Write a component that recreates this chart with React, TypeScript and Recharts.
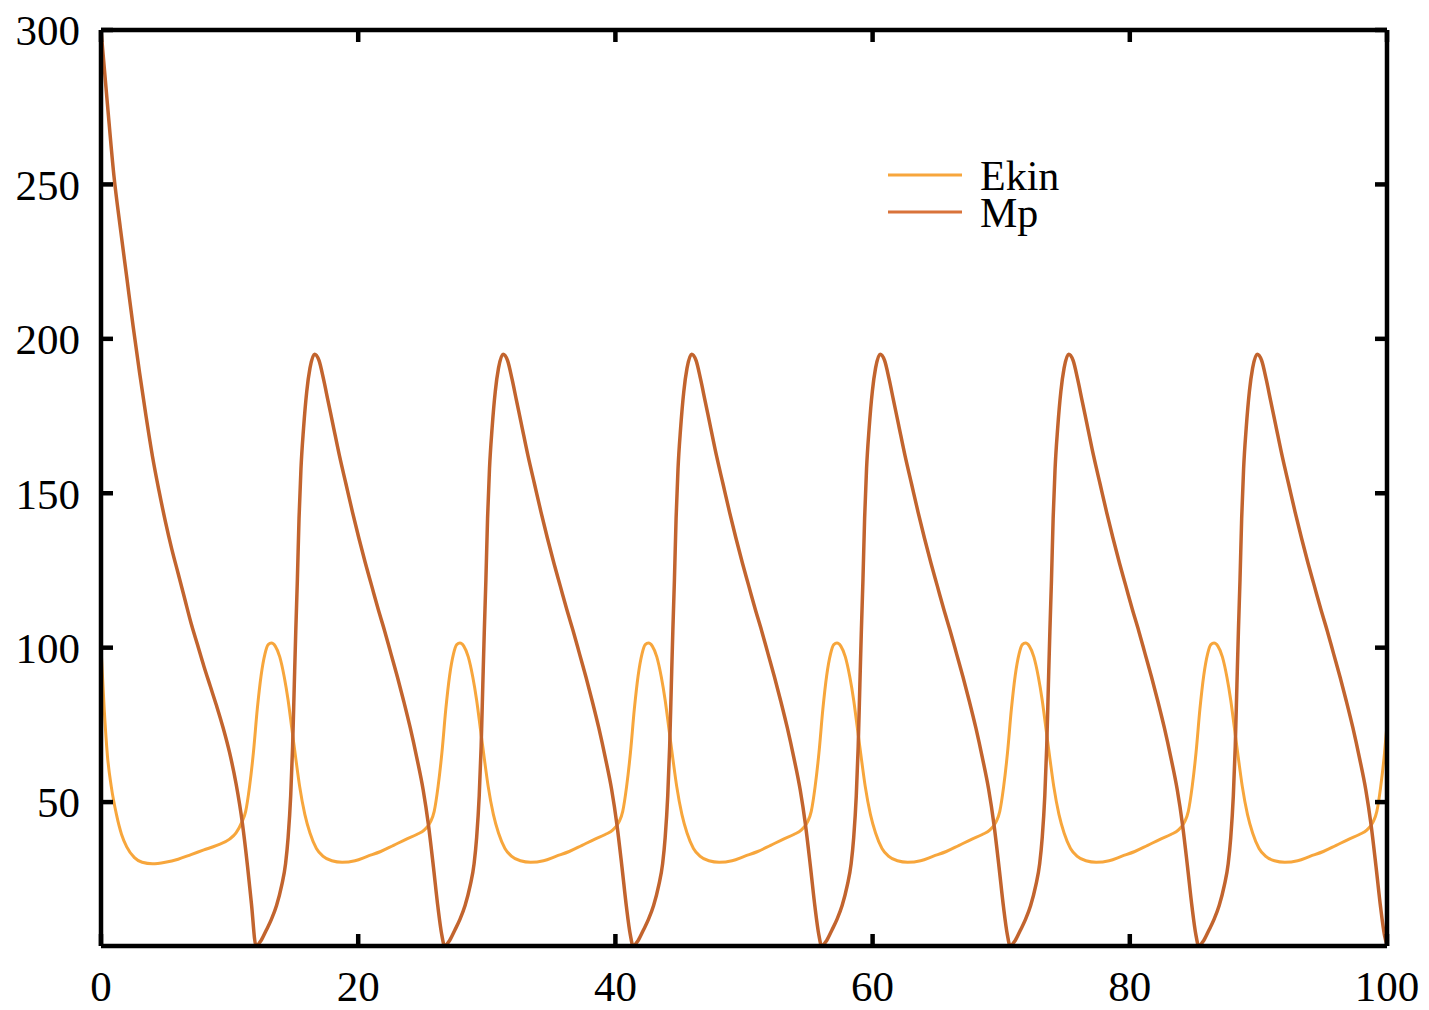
import React from 'react';
import { LineChart, Line, XAxis, YAxis, Legend } from 'recharts';

// x ticks and y ticks
const xTicks = [0, 20, 40, 60, 80, 100];
const yTicks = [50, 100, 150, 200, 250, 300];
const seriesNames = ['Ekin', 'Mp'];

// Ekin
const ekinTransient: [number, number][] = [[0,100],[0.25,80],[0.5,65],[0.8,55],[1.2,46],[1.6,39.5],[2.0,35.5],[2.6,32],[3.2,30.5],[4.0,30],[5.0,30.5],[6.0,31.5],[7.0,33],[8.0,34.5],[9.0,36],[10.0,38],[10.5,40]];
const ekinCycle1: [number, number][] = [[10.95,43.5],[11.25,47],[11.55,55],[11.85,66],[12.15,80],[12.45,91],[12.75,98],[13.00,101],[13.25,101.5],[13.55,100.5],[13.90,97],[14.25,90.5],[14.55,83],[14.85,73.5],[15.15,64],[15.45,55],[15.85,46],[16.25,40],[16.75,35],[17.25,32.5],[17.95,31],[18.75,30.5],[19.75,31],[20.75,32.5],[21.75,34],[22.75,36],[23.75,38],[24.55,39.5],[25.15,41]];
const ekinCycle2: [number, number][] = [[25.61,43.5],[25.91,47],[26.21,55],[26.51,66],[26.81,80],[27.11,91],[27.41,98],[27.66,101],[27.91,101.5],[28.21,100.5],[28.56,97],[28.91,90.5],[29.21,83],[29.51,73.5],[29.81,64],[30.11,55],[30.51,46],[30.91,40],[31.41,35],[31.91,32.5],[32.61,31],[33.41,30.5],[34.41,31],[35.41,32.5],[36.41,34],[37.41,36],[38.41,38],[39.21,39.5],[39.81,41]];
const ekinCycle3: [number, number][] = [[40.27,43.5],[40.57,47],[40.87,55],[41.17,66],[41.47,80],[41.77,91],[42.07,98],[42.32,101],[42.57,101.5],[42.87,100.5],[43.22,97],[43.57,90.5],[43.87,83],[44.17,73.5],[44.47,64],[44.77,55],[45.17,46],[45.57,40],[46.07,35],[46.57,32.5],[47.27,31],[48.07,30.5],[49.07,31],[50.07,32.5],[51.07,34],[52.07,36],[53.07,38],[53.87,39.5],[54.47,41]];
const ekinCycle4: [number, number][] = [[54.93,43.5],[55.23,47],[55.53,55],[55.83,66],[56.13,80],[56.43,91],[56.73,98],[56.98,101],[57.23,101.5],[57.53,100.5],[57.88,97],[58.23,90.5],[58.53,83],[58.83,73.5],[59.13,64],[59.43,55],[59.83,46],[60.23,40],[60.73,35],[61.23,32.5],[61.93,31],[62.73,30.5],[63.73,31],[64.73,32.5],[65.73,34],[66.73,36],[67.73,38],[68.53,39.5],[69.13,41]];
const ekinCycle5: [number, number][] = [[69.59,43.5],[69.89,47],[70.19,55],[70.49,66],[70.79,80],[71.09,91],[71.39,98],[71.64,101],[71.89,101.5],[72.19,100.5],[72.54,97],[72.89,90.5],[73.19,83],[73.49,73.5],[73.79,64],[74.09,55],[74.49,46],[74.89,40],[75.39,35],[75.89,32.5],[76.59,31],[77.39,30.5],[78.39,31],[79.39,32.5],[80.39,34],[81.39,36],[82.39,38],[83.19,39.5],[83.79,41]];
const ekinCycle6: [number, number][] = [[84.25,43.5],[84.55,47],[84.85,55],[85.15,66],[85.45,80],[85.75,91],[86.05,98],[86.30,101],[86.55,101.5],[86.85,100.5],[87.20,97],[87.55,90.5],[87.85,83],[88.15,73.5],[88.45,64],[88.75,55],[89.15,46],[89.55,40],[90.05,35],[90.55,32.5],[91.25,31],[92.05,30.5],[93.05,31],[94.05,32.5],[95.05,34],[96.05,36],[97.05,38],[97.85,39.5],[98.45,41],[98.91,43.5],[99.21,47],[99.51,55],[99.81,66],[100,75]];

// Mp
const mpTransient: [number, number][] = [[0,300],[0.5,276],[1.0,253],[1.5,236],[2.0,220],[2.5,204],[3.0,189],[3.5,175],[4.0,162],[4.5,151],[5.0,141],[5.5,132],[6.0,124],[6.5,116],[7.0,108],[7.5,101],[8.0,94],[8.5,87.5],[9.0,81],[9.5,74],[10.0,66],[10.5,56],[11.0,43],[11.4,29],[11.7,17]];
const mpCycle1: [number, number][] = [[12.05,3.5],[12.45,5.2],[12.85,8.5],[13.25,12],[13.65,16.5],[14.05,23],[14.35,30],[14.55,38.5],[14.75,52],[14.90,68],[15.03,88],[15.15,106],[15.27,122],[15.40,142],[15.55,158],[15.75,171],[16.00,183],[16.25,190.5],[16.60,195],[16.95,193],[17.30,187],[17.65,180],[18.05,172],[18.55,162],[19.05,153],[19.55,144],[20.05,135.5],[20.55,127.5],[21.05,120],[21.55,112.5],[22.05,105.5],[22.55,98],[23.05,90.5],[23.55,82.5],[24.05,74],[24.55,64.5],[25.05,54],[25.45,43],[25.85,29],[26.20,16],[26.50,7]];
const mpCycle2: [number, number][] = [[26.71,3.5],[27.11,5.2],[27.51,8.5],[27.91,12],[28.31,16.5],[28.71,23],[29.01,30],[29.21,38.5],[29.41,52],[29.56,68],[29.69,88],[29.81,106],[29.93,122],[30.06,142],[30.21,158],[30.41,171],[30.66,183],[30.91,190.5],[31.26,195],[31.61,193],[31.96,187],[32.31,180],[32.71,172],[33.21,162],[33.71,153],[34.21,144],[34.71,135.5],[35.21,127.5],[35.71,120],[36.21,112.5],[36.71,105.5],[37.21,98],[37.71,90.5],[38.21,82.5],[38.71,74],[39.21,64.5],[39.71,54],[40.11,43],[40.51,29],[40.86,16],[41.16,7]];
const mpCycle3: [number, number][] = [[41.37,3.5],[41.77,5.2],[42.17,8.5],[42.57,12],[42.97,16.5],[43.37,23],[43.67,30],[43.87,38.5],[44.07,52],[44.22,68],[44.35,88],[44.47,106],[44.59,122],[44.72,142],[44.87,158],[45.07,171],[45.32,183],[45.57,190.5],[45.92,195],[46.27,193],[46.62,187],[46.97,180],[47.37,172],[47.87,162],[48.37,153],[48.87,144],[49.37,135.5],[49.87,127.5],[50.37,120],[50.87,112.5],[51.37,105.5],[51.87,98],[52.37,90.5],[52.87,82.5],[53.37,74],[53.87,64.5],[54.37,54],[54.77,43],[55.17,29],[55.52,16],[55.82,7]];
const mpCycle4: [number, number][] = [[56.03,3.5],[56.43,5.2],[56.83,8.5],[57.23,12],[57.63,16.5],[58.03,23],[58.33,30],[58.53,38.5],[58.73,52],[58.88,68],[59.01,88],[59.13,106],[59.25,122],[59.38,142],[59.53,158],[59.73,171],[59.98,183],[60.23,190.5],[60.58,195],[60.93,193],[61.28,187],[61.63,180],[62.03,172],[62.53,162],[63.03,153],[63.53,144],[64.03,135.5],[64.53,127.5],[65.03,120],[65.53,112.5],[66.03,105.5],[66.53,98],[67.03,90.5],[67.53,82.5],[68.03,74],[68.53,64.5],[69.03,54],[69.43,43],[69.83,29],[70.18,16],[70.48,7]];
const mpCycle5: [number, number][] = [[70.69,3.5],[71.09,5.2],[71.49,8.5],[71.89,12],[72.29,16.5],[72.69,23],[72.99,30],[73.19,38.5],[73.39,52],[73.54,68],[73.67,88],[73.79,106],[73.91,122],[74.04,142],[74.19,158],[74.39,171],[74.64,183],[74.89,190.5],[75.24,195],[75.59,193],[75.94,187],[76.29,180],[76.69,172],[77.19,162],[77.69,153],[78.19,144],[78.69,135.5],[79.19,127.5],[79.69,120],[80.19,112.5],[80.69,105.5],[81.19,98],[81.69,90.5],[82.19,82.5],[82.69,74],[83.19,64.5],[83.69,54],[84.09,43],[84.49,29],[84.84,16],[85.14,7]];
const mpCycle6: [number, number][] = [[85.35,3.5],[85.75,5.2],[86.15,8.5],[86.55,12],[86.95,16.5],[87.35,23],[87.65,30],[87.85,38.5],[88.05,52],[88.20,68],[88.33,88],[88.45,106],[88.57,122],[88.70,142],[88.85,158],[89.05,171],[89.30,183],[89.55,190.5],[89.90,195],[90.25,193],[90.60,187],[90.95,180],[91.35,172],[91.85,162],[92.35,153],[92.85,144],[93.35,135.5],[93.85,127.5],[94.35,120],[94.85,112.5],[95.35,105.5],[95.85,98],[96.35,90.5],[96.85,82.5],[97.35,74],[97.85,64.5],[98.35,54],[98.75,43],[99.15,29],[99.50,16],[99.80,7],[100,3.6]];

const toData = (parts: [number, number][][]) =>
  parts.flat().map(([t, v]) => ({ t, v }));

const ekinData = toData([ekinTransient, ekinCycle1, ekinCycle2, ekinCycle3, ekinCycle4, ekinCycle5, ekinCycle6]);
const mpData = toData([mpTransient, mpCycle1, mpCycle2, mpCycle3, mpCycle4, mpCycle5, mpCycle6]);

const EKIN_COLOR = '#f7a63c';
const MP_COLOR = '#c2642e';
const FONT = "'Liberation Serif', 'DejaVu Serif', serif";

const axisLine = { stroke: '#000', strokeWidth: 4.5 };
const tickLine = { stroke: '#000', strokeWidth: 4.5 };
const tickText = { fontFamily: FONT, fontSize: 43, fill: '#000' };
const NoLabel = () => <g />;

const LegendBox = () => (
  <svg width={240} height={100} style={{ display: 'block' }}>
    <line x1={8} x2={82} y1={25} y2={25} stroke={EKIN_COLOR} strokeWidth={3} />
    <text x={100} y={40} fontFamily={FONT} fontSize={42} fill="#000">{seriesNames[0]}</text>
    <line x1={8} x2={82} y1={62} y2={62} stroke="#d9733a" strokeWidth={3} />
    <text x={100} y={77} fontFamily={FONT} fontSize={42} fill="#000">{seriesNames[1]}</text>
  </svg>
);

export default function App() {
  return (
    <div style={{ position: 'absolute', left: 0, top: 0, width: 1429, height: 1010, background: '#fff' }}>
      <LineChart width={1429} height={1010} margin={{ top: 20, right: 32, bottom: 14, left: 11 }}>
        <XAxis
          xAxisId="b"
          type="number"
          dataKey="t"
          domain={[0, 100]}
          ticks={xTicks}
          allowDataOverflow
          height={50}
          tickSize={-12}
          tickMargin={36}
          axisLine={axisLine}
          tickLine={tickLine}
          tick={tickText}
        />
        <XAxis
          xAxisId="top"
          orientation="top"
          type="number"
          dataKey="t"
          domain={[0, 100]}
          ticks={xTicks}
          allowDataOverflow
          height={10}
          tickSize={-12}
          axisLine={axisLine}
          tickLine={tickLine}
          tick={NoLabel}
        />
        <YAxis
          yAxisId="l"
          type="number"
          domain={[3.4, 300]}
          ticks={yTicks}
          allowDataOverflow
          width={90}
          tickSize={-12}
          tickMargin={33}
          axisLine={axisLine}
          tickLine={tickLine}
          tick={tickText}
        />
        <YAxis
          yAxisId="r"
          orientation="right"
          type="number"
          domain={[3.4, 300]}
          ticks={yTicks}
          allowDataOverflow
          width={10}
          tickSize={-12}
          axisLine={axisLine}
          tickLine={tickLine}
          tick={NoLabel}
        />
        <Legend
          layout="vertical"
          align="center"
          verticalAlign="middle"
          wrapperStyle={{ position: 'absolute', left: 880, top: 150, width: 240, height: 100 }}
          content={() => <LegendBox />}
        />
        <Line
          xAxisId="b"
          yAxisId="l"
          data={ekinData}
          dataKey="v"
          name={seriesNames[0]}
          type="monotone"
          stroke={EKIN_COLOR}
          strokeWidth={3}
          dot={false}
          isAnimationActive={false}
        />
        <Line
          xAxisId="b"
          yAxisId="l"
          data={mpData}
          dataKey="v"
          name={seriesNames[1]}
          type="monotone"
          stroke={MP_COLOR}
          strokeWidth={3.5}
          dot={false}
          isAnimationActive={false}
        />
      </LineChart>
    </div>
  );
}
